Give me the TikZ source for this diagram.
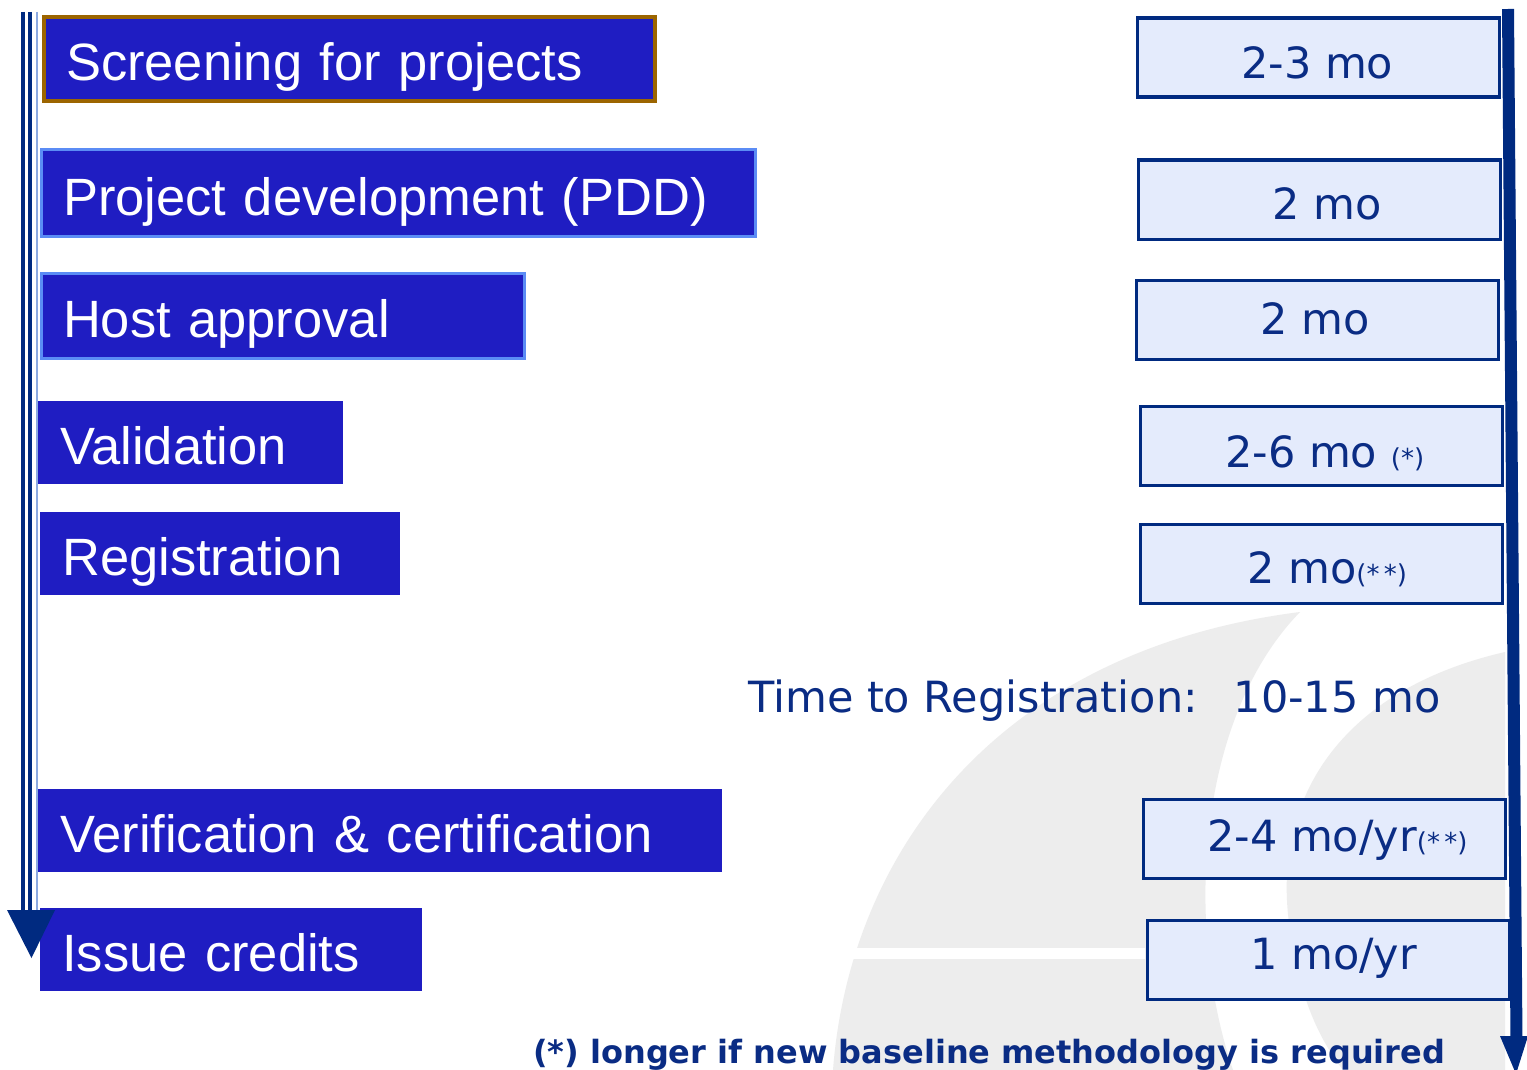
\documentclass[tikz,border=0pt]{standalone}
\usepackage{fontspec}
\setmainfont{Liberation Sans}
\newfontfamily\verd{DejaVu Sans}
\definecolor{navy}{RGB}{0,42,128}
\definecolor{tnavy}{RGB}{10,44,132}
\definecolor{lfill}{RGB}{31,29,194}
\definecolor{brownb}{RGB}{156,101,0}
\definecolor{lightb}{RGB}{91,140,245}
\definecolor{rfill}{RGB}{228,235,252}
\definecolor{bggray}{RGB}{237,237,237}
\definecolor{lline}{RGB}{140,170,225}
\tikzset{
  lbox/.style={fill=lfill, text=white, font=\fontsize{52.5}{60}\selectfont,
    anchor=north west, inner xsep=22pt, text height=44pt, text depth=0pt, align=left},
  rbox/.style={draw=navy, line width=3.2pt, fill=rfill, anchor=north west,
    inner sep=0pt, minimum width=362pt, minimum height=79pt},
  rtext/.style={text=tnavy, font=\verd\fontsize{43}{50}\selectfont, anchor=base west, inner sep=0pt}
}
\begin{document}
\begin{tikzpicture}[x=1pt,y=-1pt]
\useasboundingbox[fill=white] (0,0) rectangle (1527,1070);
% background watermark
\fill[bggray] (833,1070) .. controls (850,850) and (1000,650) .. (1300,612)
  .. controls (1195,720) and (1185,930) .. (1233,1070) -- cycle;
\fill[bggray] (1505,652) .. controls (1340,690) and (1270,800) .. (1290,930)
  .. controls (1300,1000) and (1320,1040) .. (1343,1070) -- (1505,1070) -- cycle;
\fill[white] (767,948) rectangle (1145,959);
% left boxes
\node[lbox, draw=brownb, line width=4pt, inner ysep=20pt, text width=567pt] (s1) at (42,15) {Screening for projects};
\node[lbox, draw=lightb, line width=3pt, inner ysep=21pt, text width=670pt] (s2) at (39.5,148.5) {Project development (PDD)};
\node[lbox, draw=lightb, line width=3pt, inner ysep=20.5pt, text width=439pt] (s3) at (39.5,271.5) {Host approval};
\node[lbox, inner ysep=19.5pt, text width=261pt] (s4) at (38,401) {Validation};
\node[lbox, inner ysep=19.5pt, text width=316pt] (s5) at (40,512) {Registration};
\node[lbox, inner ysep=19.5pt, text width=640pt] (s6) at (38,789) {Verification \& certification};
\node[lbox, inner ysep=19.5pt, text width=338pt] (s7) at (40,908) {Issue credits};
% right boxes
\node[rbox] (r1) at (1135.5,16.5) {};
\node[rbox] (r2) at (1136.5,158.5) {};
\node[rbox] (r3) at (1134.5,278.5) {};
\node[rbox] (r4) at (1138.5,404.5) {};
\node[rbox] (r5) at (1138.5,522.5) {};
\node[rbox] (r6) at (1141.5,797.5) {};
\node[rbox] (r7) at (1145.5,918.5) {};
\node[rtext] (t1) at (1241,79) {2-3 mo};
\node[rtext] (t2) at (1272,219) {2 mo};
\node[rtext] (t3) at (1260,334) {2 mo};
\node[rtext] (t4) at (1225,467) {2-6 mo {\fontsize{26}{26}\selectfont (*)}};
\node[rtext] (t5) at (1247,583) {2 mo{\fontsize{26}{26}\selectfont (*\,*)}};
\node[rtext] (t6) at (1207,851) {2-4 mo/yr{\fontsize{26}{26}\selectfont (*\,*)}};
\node[rtext] (t7) at (1250,969) {1 mo/yr};
\node[rtext] (ttr) at (748,712) {Time to Registration:\hspace{36pt}10-15 mo};
\node[text=tnavy, font=\verd\bfseries\fontsize{32}{36}\selectfont, anchor=base west, inner sep=0pt] (fn) at (533,1063) {(*) longer if new baseline methodology is required};
% left timeline arrow
\coordinate (la1) at (23,12); \coordinate (la2) at (23,912);
\coordinate (lb1) at (30,12); \coordinate (lb2) at (30,912);
\coordinate (lc1) at (36.5,12); \coordinate (lc2) at (36.5,912);
\draw[navy, line width=4pt] (la1) -- (la2);
\draw[navy, line width=4pt] (lb1) -- (lb2);
\draw[lline, line width=2pt] (lc1) -- (lc2);
\fill[navy] (7,910) -- (55,910) -- (31.5,958) -- cycle;
% right timeline arrow
\coordinate (ra1) at (1508,9); \coordinate (ra2) at (1516.5,1040);
\draw[navy, line width=12pt] (ra1) -- (ra2);
\fill[navy] (1500,1036) -- (1528,1036) -- (1516,1074) -- cycle;
\end{tikzpicture}
\end{document}
